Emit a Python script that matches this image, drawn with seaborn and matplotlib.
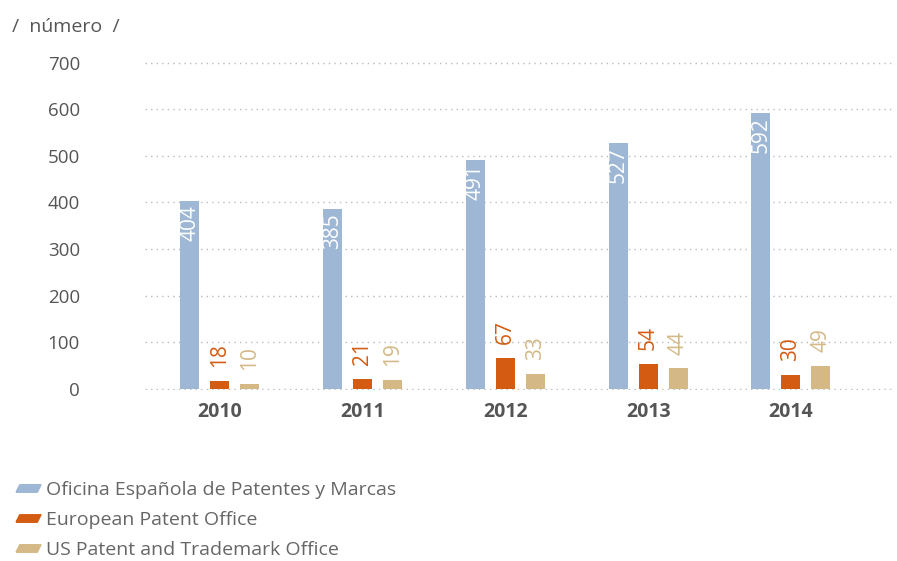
import pandas as pd
import matplotlib
matplotlib.use('Agg')
import matplotlib.pyplot as plt
import seaborn as sns
from matplotlib.lines import Line2D

years = ['2010', '2011', '2012', '2013', '2014']
offices = ['Oficina Española de Patentes y Marcas', 'European Patent Office', 'US Patent and Trademark Office']
oepm = [404, 385, 491, 527, 592]
epo = [18, 21, 67, 54, 30]
uspto = [10, 19, 33, 44, 49]
colores = ['#9DB7D5', '#D45B12', '#D4B886']

df = pd.DataFrame({
    'anio': years * 3,
    'oficina': [offices[0]] * 5 + [offices[1]] * 5 + [offices[2]] * 5,
    'numero': oepm + epo + uspto,
})

sns.set_style('white')
plt.rcParams['font.family'] = ['Open Sans', 'DejaVu Sans']

fig = plt.figure(figsize=(8.97, 5.61), dpi=100)
ax = fig.add_axes([0.162, 0.305, 0.836, 0.585])

sns.barplot(data=df, x='anio', y='numero', hue='oficina', hue_order=offices,
            palette=colores, width=0.63, gap=0.365, saturation=1, legend=False,
            linewidth=0, ax=ax)

# etiquetas de valores
for i, cont in enumerate(ax.containers):
    for bar, val in zip(cont, [oepm, epo, uspto][i]):
        cx = bar.get_x() + bar.get_width() / 2
        top = bar.get_height()
        if i == 0:
            ax.annotate(str(val), (cx, top), xytext=(0, -3), textcoords='offset points',
                        rotation=90, ha='center', va='top', color='white', fontsize=15)
        else:
            ax.annotate(str(val), (cx, top), xytext=(0, 10), textcoords='offset points',
                        rotation=90, ha='center', va='bottom', color=colores[i], fontsize=15)

ax.set_ylim(-2, 702)
ax.set_xlim(-0.52, 4.73)
ax.set_yticks(range(0, 701, 100))
ax.yaxis.grid(True, color='#BBBBBB', linestyle=(0, (1, 3)), linewidth=1)
ax.set_axisbelow(True)
for s in ax.spines.values():
    s.set_visible(False)
ax.tick_params(axis='both', length=0)
ax.tick_params(axis='y', pad=47, labelsize=13.5, labelcolor='#555555')
ax.tick_params(axis='x', pad=9, labelsize=14, labelcolor='#555555')
for lbl in ax.get_yticklabels():
    lbl.set_ha('right')
for lbl in ax.get_xticklabels():
    lbl.set_fontweight('bold')
ax.set_xlabel('')
ax.set_ylabel('')

fig.text(0.013, 0.951, '/  número  /', fontsize=14, color='#555555', va='center')

# leyenda con marcadores en forma de paralelogramo
para = [(-1.0, -0.3), (0.7, -0.3), (1.0, 0.3), (-0.7, 0.3), (-1.0, -0.3)]
handles = [Line2D([], [], linestyle='none', marker=para, markersize=18,
                  markerfacecolor=c, markeredgecolor=c) for c in colores]
fig.legend(handles, offices, loc='upper left', bbox_to_anchor=(0.012, 0.157),
           frameon=False, fontsize=14, labelcolor='#666666', handlelength=1.0,
           handletextpad=0.4, labelspacing=0.62, borderaxespad=0)

plt.savefig('out.png', dpi=100)
